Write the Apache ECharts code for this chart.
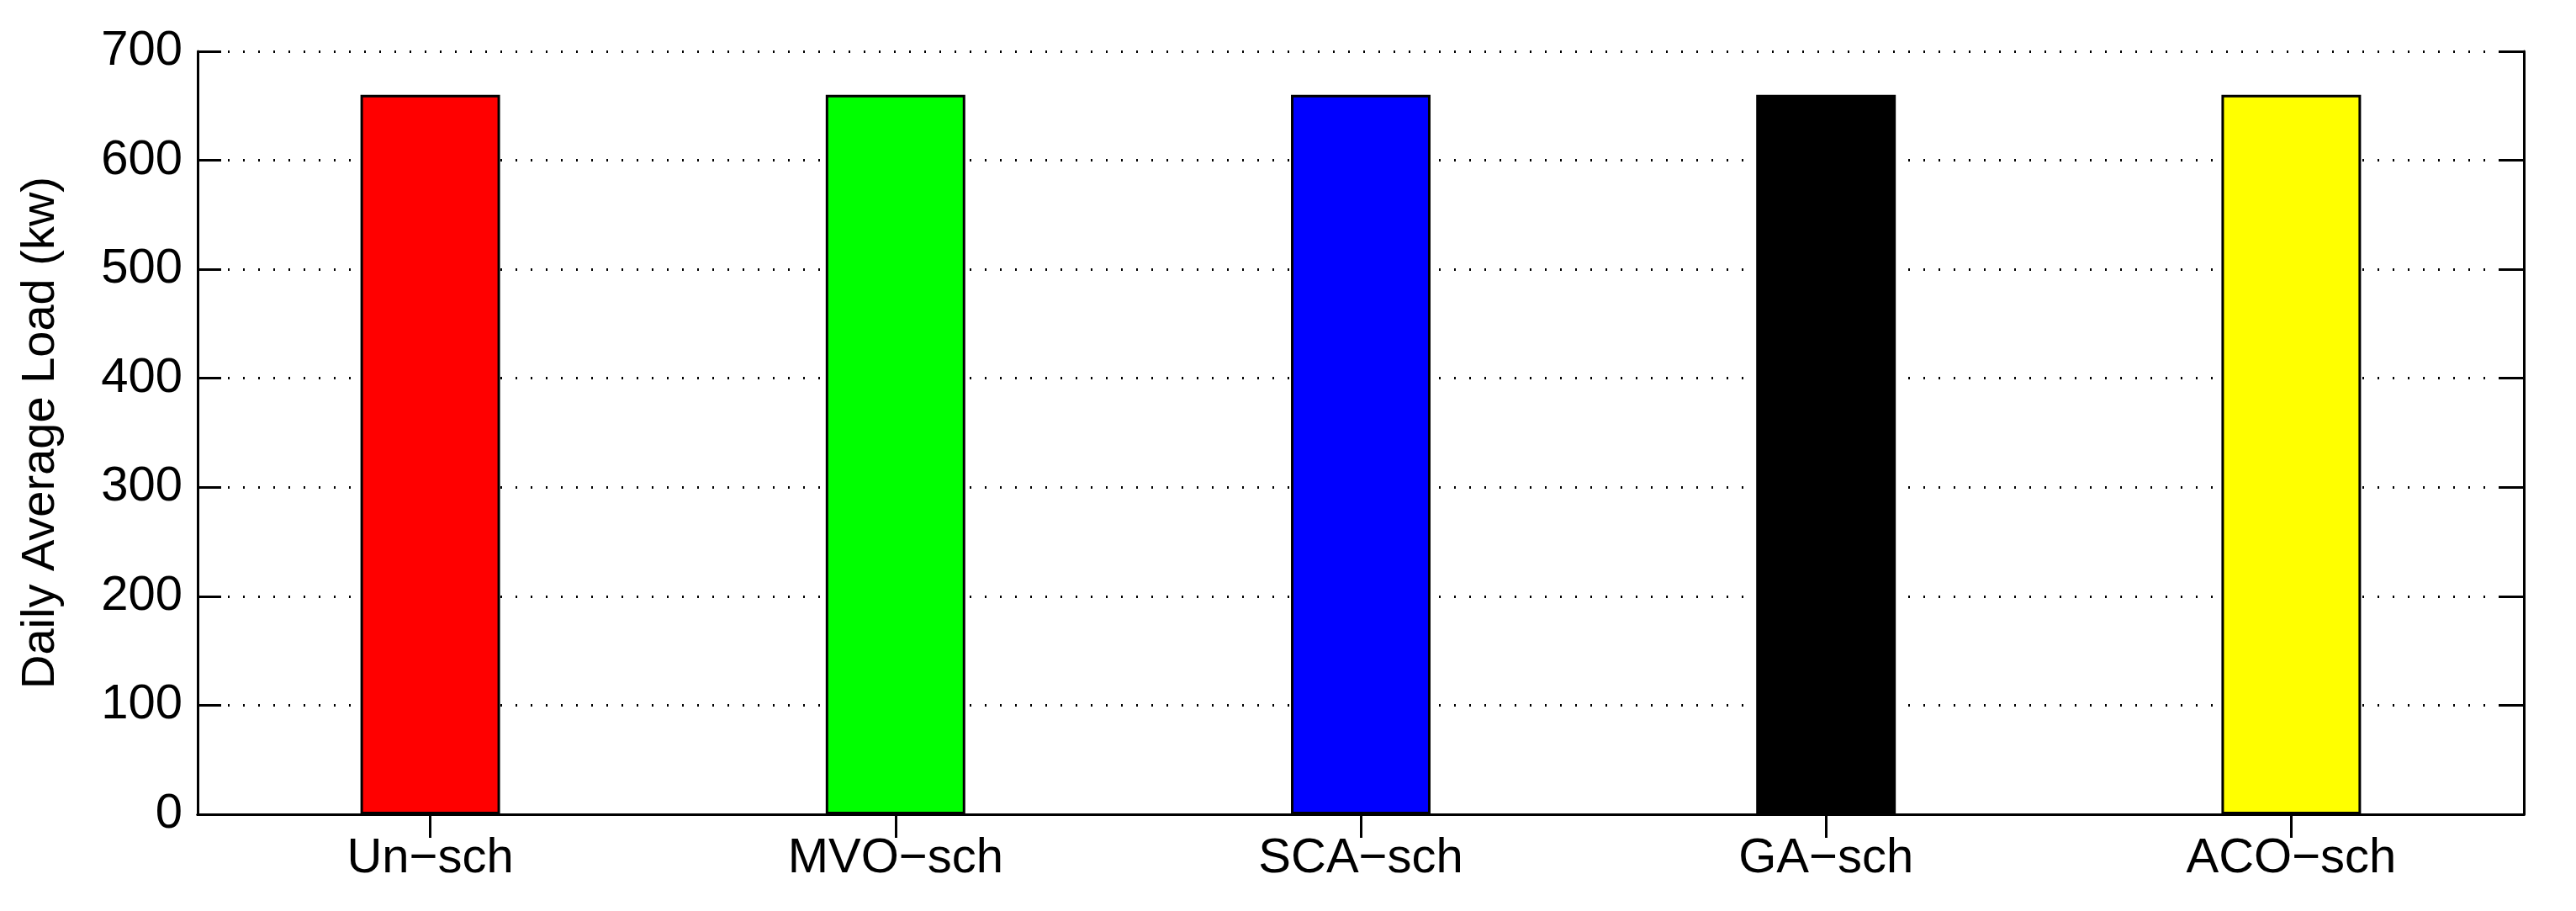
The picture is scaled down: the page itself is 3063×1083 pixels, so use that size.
<!DOCTYPE html>
<html><head><meta charset="utf-8">
<script src="https://cdn.jsdelivr.net/npm/echarts@6/dist/echarts.min.js"></script>
<style>html,body{margin:0;background:#fff}#main{width:3063px;height:1083px}</style>
</head><body><div id="main"></div>
<script>
var categories = ['Un\u2212sch', 'MVO\u2212sch', 'SCA\u2212sch', 'GA\u2212sch', 'ACO\u2212sch'];
var loads = [660, 660, 660, 660, 660];
var barColors = ['#ff0000', '#00ff00', '#0000ff', '#000000', '#ffff00'];

var font = 'Liberation Sans';
var myChart = echarts.init(document.getElementById('main'));
var axLine = { show: true, lineStyle: { color: '#000', width: 3 } };
// ticks point into the plot (MATLAB style)
var inTick = { show: true, inside: false, alignWithLabel: true, length: -28, lineStyle: { color: '#000', width: 3 } };
var option = {
  animation: false,
  grid: { left: 235, right: 62, top: 61, bottom: 115 },
  xAxis: [{
    type: 'category', data: categories, position: 'bottom',
    axisLine: axLine, axisTick: inTick,
    axisLabel: { color: '#000', fontSize: 58, fontFamily: font, margin: 24 },
    splitLine: { show: false }
  }, {
    type: 'category', data: categories, position: 'top',
    axisLine: axLine, axisTick: inTick,
    axisLabel: { show: false }
  }],
  yAxis: [{
    type: 'value', min: 0, max: 700, interval: 100, position: 'left',
    name: 'Daily Average Load (kw)', nameLocation: 'middle', nameGap: 158,
    nameTextStyle: { color: '#000', fontSize: 56, fontFamily: font },
    axisLine: axLine, axisTick: inTick,
    axisLabel: { color: '#000', fontSize: 58, fontFamily: font, margin: 18 },
    splitLine: { show: true, lineStyle: { color: '#000', width: 3, type: [2, 16] } }
  }, {
    type: 'value', min: 0, max: 700, interval: 100, position: 'right',
    axisLine: axLine, axisTick: inTick,
    axisLabel: { show: false }, splitLine: { show: false }
  }],
  series: [{
    type: 'bar', barWidth: '30%',
    data: loads.map(function (v, i) {
      return { value: v, itemStyle: { color: barColors[i], borderColor: '#000', borderWidth: 3 } };
    })
  }]
};
myChart.setOption(option);
</script></body></html>
